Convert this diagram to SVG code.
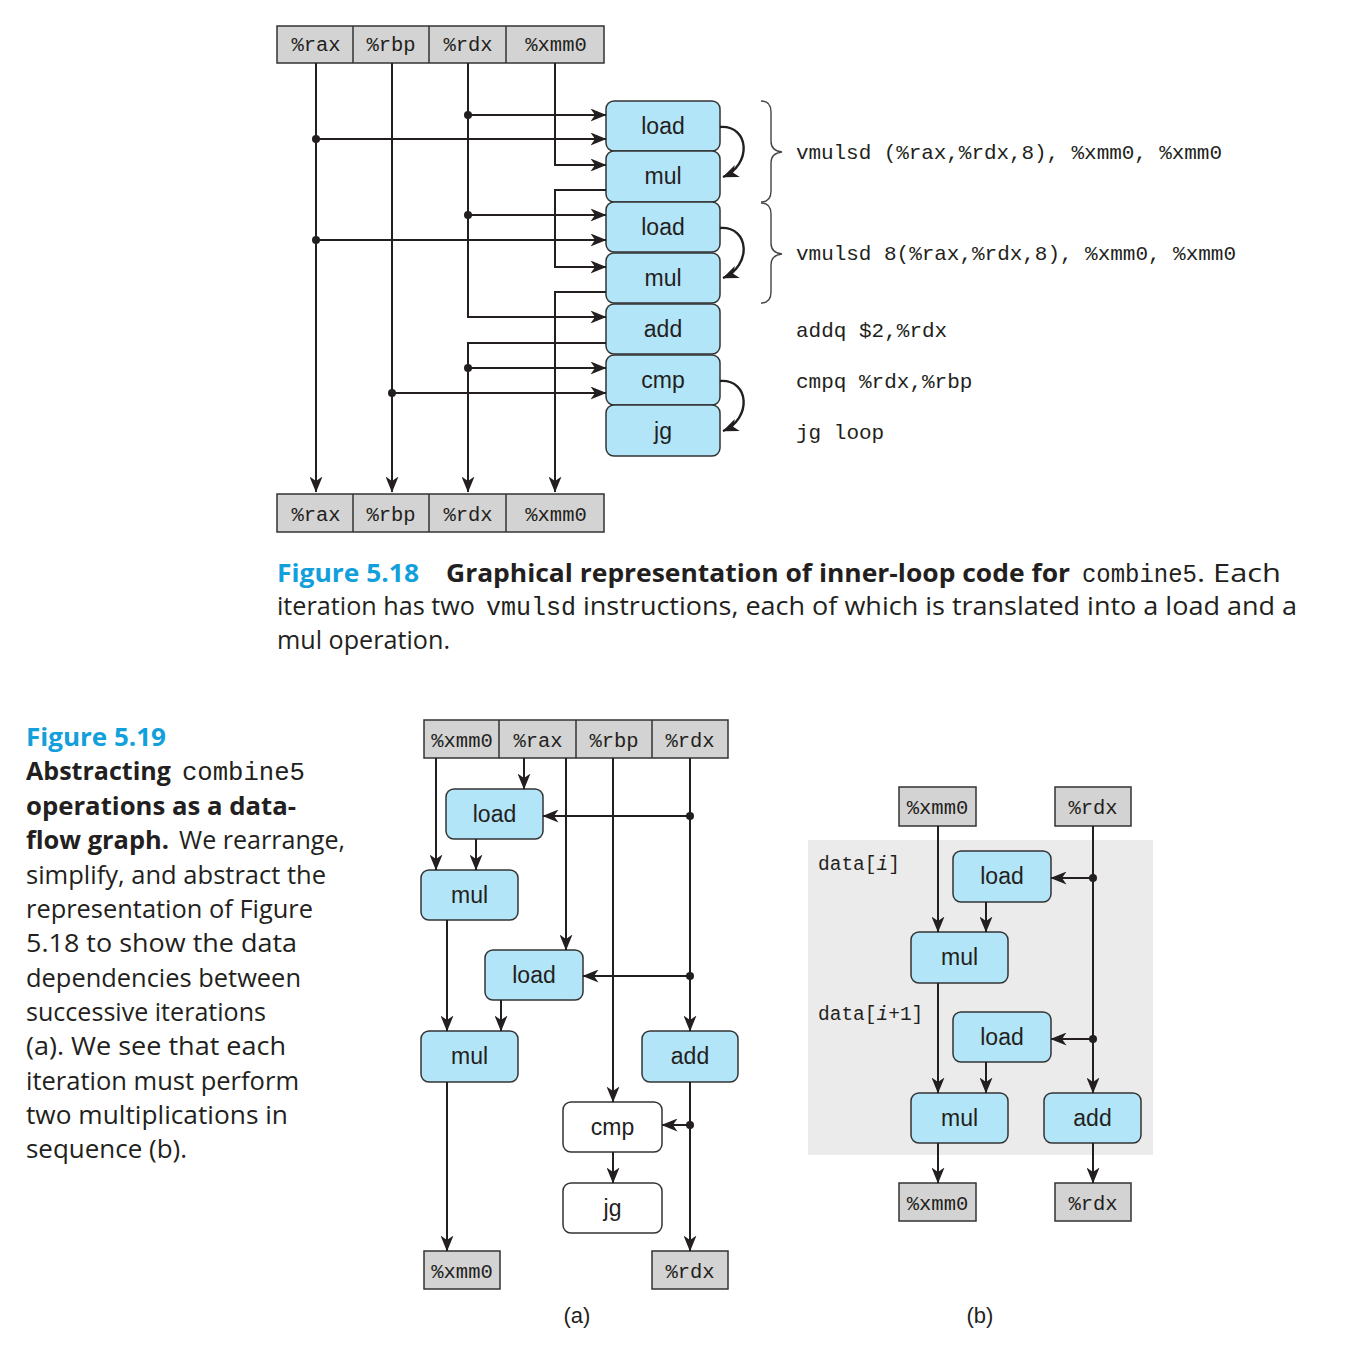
<svg xmlns="http://www.w3.org/2000/svg" width="1366" height="1356" viewBox="0 0 1366 1356">
<defs>
<marker id="ah" viewBox="0 0 16 13" markerWidth="16" markerHeight="13" refX="15.5" refY="6.5" orient="auto" markerUnits="userSpaceOnUse">
<path d="M0,0 L16,6.5 L0,13 L4.5,6.5 Z" fill="#231f20"/>
</marker>
<style>
.reg{fill:#d3d3d3;stroke:#333;stroke-width:1.5}
.node{fill:#b3e5f8;stroke:#333;stroke-width:1.5}
.wnode{fill:#fff;stroke:#333;stroke-width:1.5}
.mono{font-family:"Liberation Mono","DejaVu Sans Mono",monospace;fill:#231f20}
.rl{font-family:"Liberation Mono","DejaVu Sans Mono",monospace;font-size:20.5px;fill:#231f20;text-anchor:middle}
.nl{font-family:"Liberation Sans",Arial,sans-serif;font-size:23px;fill:#231f20;text-anchor:middle}
.cap{font-family:"Open Sans","Noto Sans",sans-serif;font-size:25px;fill:#231f20}
.capb{font-family:"Open Sans","Noto Sans",sans-serif;font-size:25px;fill:#231f20;font-weight:bold}
.fig{font-family:"Open Sans","Noto Sans",sans-serif;font-size:25px;fill:#12a0dc;font-weight:bold}
.cm{font-family:"Liberation Mono","DejaVu Sans Mono",monospace;font-size:25px;fill:#231f20}
.ln{fill:none;stroke:#231f20;stroke-width:2}
.arr{fill:none;stroke:#231f20;stroke-width:2;marker-end:url(#ah)}
.arc{fill:none;stroke:#231f20;stroke-width:2.4;marker-end:url(#ah)}
.dot{fill:#231f20}
.brace{fill:none;stroke:#444;stroke-width:1.4}
</style>
</defs>
<rect width="1366" height="1356" fill="#fff"/>

<!-- ===== Figure 5.18 ===== -->
<g id="top-regs-in">
<rect class="reg" x="277" y="26" width="327" height="37"/>
<line x1="353" y1="26" x2="353" y2="63" stroke="#333" stroke-width="1.5"/>
<line x1="429" y1="26" x2="429" y2="63" stroke="#333" stroke-width="1.5"/>
<line x1="506" y1="26" x2="506" y2="63" stroke="#333" stroke-width="1.5"/>
<text class="rl" x="316" y="51">%rax</text>
<text class="rl" x="391" y="51">%rbp</text>
<text class="rl" x="468" y="51">%rdx</text>
<text class="rl" x="556" y="51">%xmm0</text>
</g>
<g id="top-regs-out">
<rect class="reg" x="277" y="494" width="327" height="38"/>
<line x1="353" y1="494" x2="353" y2="532" stroke="#333" stroke-width="1.5"/>
<line x1="429" y1="494" x2="429" y2="532" stroke="#333" stroke-width="1.5"/>
<line x1="506" y1="494" x2="506" y2="532" stroke="#333" stroke-width="1.5"/>
<text class="rl" x="316" y="521">%rax</text>
<text class="rl" x="391" y="521">%rbp</text>
<text class="rl" x="468" y="521">%rdx</text>
<text class="rl" x="556" y="521">%xmm0</text>
</g>
<g id="t-load1"><rect class="node" x="606" y="101" width="114" height="50" rx="8"/><text class="nl" x="663" y="134">load</text></g>
<g id="t-mul1"><rect class="node" x="606" y="151" width="114" height="51" rx="8"/><text class="nl" x="663" y="184">mul</text></g>
<g id="t-load2"><rect class="node" x="606" y="202" width="114" height="50" rx="8"/><text class="nl" x="663" y="235">load</text></g>
<g id="t-mul2"><rect class="node" x="606" y="253" width="114" height="50" rx="8"/><text class="nl" x="663" y="286">mul</text></g>
<g id="t-add"><rect class="node" x="606" y="304" width="114" height="50" rx="8"/><text class="nl" x="663" y="337">add</text></g>
<g id="t-cmp"><rect class="node" x="606" y="355" width="114" height="50" rx="8"/><text class="nl" x="663" y="388">cmp</text></g>
<g id="t-jg"><rect class="node" x="606" y="405" width="114" height="51" rx="8"/><text class="nl" x="663" y="439">jg</text></g>

<g id="top-connectors">
<path class="arr" d="M316,63 V492"/>
<path class="arr" d="M392,63 V492"/>
<path class="arr" d="M468,63 V317 H606"/>
<path class="arr" d="M606,343 H468 V492"/>
<path class="arr" d="M555,63 V165 H606"/>
<path class="arr" d="M606,190 H555 V267 H606"/>
<path class="arr" d="M606,292 H555 V492"/>
<path class="arr" d="M468,115 H606"/>
<path class="arr" d="M316,139 H606"/>
<path class="arr" d="M468,215 H606"/>
<path class="arr" d="M316,240 H606"/>
<path class="arr" d="M468,368 H606"/>
<path class="arr" d="M392,393 H606"/>
<circle class="dot" cx="468" cy="115" r="4"/>
<circle class="dot" cx="316" cy="139" r="4"/>
<circle class="dot" cx="468" cy="215" r="4"/>
<circle class="dot" cx="316" cy="240" r="4"/>
<circle class="dot" cx="468" cy="368" r="4"/>
<circle class="dot" cx="392" cy="393" r="4"/>
<path class="arc" d="M720,127 C750,125 752,165 723,177"/>
<path class="arc" d="M720,228 C750,226 752,266 723,278"/>
<path class="arc" d="M720,381 C750,379 752,419 723,431"/>
</g>
<g id="braces">
<path class="brace" d="M761,101 Q771,101 771,112 L771,141 Q771,151 782,152 Q771,153 771,163 L771,191 Q771,202 761,202"/>
<path class="brace" d="M761,203 Q771,203 771,214 L771,243 Q771,253 782,254 Q771,255 771,265 L771,292 Q771,303 761,303"/>
</g>
<g id="code">
<text class="mono" x="796" y="159" font-size="21" textLength="426">vmulsd (%rax,%rdx,8), %xmm0, %xmm0</text>
<text class="mono" x="796" y="260" font-size="21" textLength="440">vmulsd 8(%rax,%rdx,8), %xmm0, %xmm0</text>
<text class="mono" x="796" y="337" font-size="21">addq $2,%rdx</text>
<text class="mono" x="796" y="388" font-size="21">cmpq %rdx,%rbp</text>
<text class="mono" x="796" y="439" font-size="21">jg loop</text>
</g>
<g id="caption-518">
<text class="fig" x="277" y="582" textLength="142" lengthAdjust="spacingAndGlyphs">Figure 5.18</text>
<text class="capb" x="446" y="582" textLength="624" lengthAdjust="spacingAndGlyphs">Graphical representation of inner-loop code for</text>
<text class="cm" x="1082" y="582" textLength="115" lengthAdjust="spacingAndGlyphs">combine5</text>
<text class="cap" x="1197" y="582" textLength="84" lengthAdjust="spacingAndGlyphs">. Each</text>
<text class="cap" x="277" y="615" textLength="198" lengthAdjust="spacingAndGlyphs">iteration has two</text>
<text class="cm" x="486" y="615" textLength="90" lengthAdjust="spacingAndGlyphs">vmulsd</text>
<text class="cap" x="583" y="615" textLength="714" lengthAdjust="spacingAndGlyphs">instructions, each of which is translated into a load and a</text>
<text class="cap" x="277" y="649" textLength="173" lengthAdjust="spacingAndGlyphs">mul operation.</text>
</g>

<!-- ===== Figure 5.19 caption ===== -->
<g id="caption-519">
<text class="fig" x="26" y="746" textLength="140" lengthAdjust="spacingAndGlyphs">Figure 5.19</text>
<text class="capb" x="26" y="780" textLength="145" lengthAdjust="spacingAndGlyphs">Abstracting</text>
<text class="cm" x="182" y="780" textLength="123" lengthAdjust="spacingAndGlyphs">combine5</text>
<text class="capb" x="26" y="815" textLength="270" lengthAdjust="spacingAndGlyphs">operations as a data-</text>
<text class="capb" x="26" y="849" textLength="143" lengthAdjust="spacingAndGlyphs">flow graph.</text>
<text class="cap" x="179" y="849" textLength="166" lengthAdjust="spacingAndGlyphs">We rearrange,</text>
<text class="cap" x="26" y="884" textLength="300" lengthAdjust="spacingAndGlyphs">simplify, and abstract the</text>
<text class="cap" x="26" y="918" textLength="287" lengthAdjust="spacingAndGlyphs">representation of Figure</text>
<text class="cap" x="26" y="952" textLength="271" lengthAdjust="spacingAndGlyphs">5.18 to show the data</text>
<text class="cap" x="26" y="987" textLength="275" lengthAdjust="spacingAndGlyphs">dependencies between</text>
<text class="cap" x="26" y="1021" textLength="240" lengthAdjust="spacingAndGlyphs">successive iterations</text>
<text class="cap" x="26" y="1055" textLength="260" lengthAdjust="spacingAndGlyphs">(a). We see that each</text>
<text class="cap" x="26" y="1090" textLength="273" lengthAdjust="spacingAndGlyphs">iteration must perform</text>
<text class="cap" x="26" y="1124" textLength="262" lengthAdjust="spacingAndGlyphs">two multiplications in</text>
<text class="cap" x="26" y="1158" textLength="161" lengthAdjust="spacingAndGlyphs">sequence (b).</text>
</g>

<!-- ===== (a) ===== -->
<g id="a-regs-in">
<rect class="reg" x="424" y="720" width="304" height="38"/>
<line x1="499" y1="720" x2="499" y2="758" stroke="#333" stroke-width="1.5"/>
<line x1="576" y1="720" x2="576" y2="758" stroke="#333" stroke-width="1.5"/>
<line x1="652" y1="720" x2="652" y2="758" stroke="#333" stroke-width="1.5"/>
<text class="rl" x="462" y="747">%xmm0</text>
<text class="rl" x="538" y="747">%rax</text>
<text class="rl" x="614" y="747">%rbp</text>
<text class="rl" x="690" y="747">%rdx</text>
</g>
<g id="a-load1"><rect class="node" x="446" y="789" width="97" height="50" rx="8"/><text class="nl" x="494.5" y="822">load</text></g>
<g id="a-mul1"><rect class="node" x="421" y="870" width="97" height="50" rx="8"/><text class="nl" x="469.5" y="903">mul</text></g>
<g id="a-load2"><rect class="node" x="485" y="950" width="98" height="50" rx="8"/><text class="nl" x="534" y="983">load</text></g>
<g id="a-mul2"><rect class="node" x="421" y="1031" width="97" height="51" rx="8"/><text class="nl" x="469.5" y="1064">mul</text></g>
<g id="a-add"><rect class="node" x="642" y="1031" width="96" height="51" rx="8"/><text class="nl" x="690" y="1064">add</text></g>
<g id="a-cmp"><rect class="wnode" x="563" y="1102" width="99" height="50" rx="8"/><text class="nl" x="612.5" y="1135">cmp</text></g>
<g id="a-jg"><rect class="wnode" x="563" y="1183" width="99" height="50" rx="8"/><text class="nl" x="612.5" y="1216">jg</text></g>
<g id="a-out-xmm0"><rect class="reg" x="424" y="1251" width="76" height="38"/><text class="rl" x="462" y="1278">%xmm0</text></g>
<g id="a-out-rdx"><rect class="reg" x="652" y="1251" width="76" height="38"/><text class="rl" x="690" y="1278">%rdx</text></g>
<g id="a-connectors">
<path class="arr" d="M436,758 V870"/>
<path class="arr" d="M524,758 V789"/>
<path class="arr" d="M566,758 V950"/>
<path class="arr" d="M613,758 V1102"/>
<path class="arr" d="M690,758 V1031"/>
<path class="arr" d="M690,816 H543"/>
<path class="arr" d="M690,976 H583"/>
<path class="arr" d="M476,839 V870"/>
<path class="arr" d="M447,920 V1031"/>
<path class="arr" d="M501,1000 V1031"/>
<path class="arr" d="M690,1082 V1251"/>
<path class="arr" d="M690,1125 H662"/>
<path class="arr" d="M613,1152 V1183"/>
<path class="arr" d="M447,1082 V1251"/>
<circle class="dot" cx="690" cy="816" r="4"/>
<circle class="dot" cx="690" cy="976" r="4"/>
<circle class="dot" cx="690" cy="1125" r="4"/>
</g>
<text x="577" y="1323" font-family="Liberation Sans, Arial, sans-serif" font-size="22" fill="#231f20" text-anchor="middle">(a)</text>

<!-- ===== (b) ===== -->
<rect x="808" y="840" width="345" height="315" fill="#ebebeb"/>
<text class="mono" x="818" y="870" font-size="19.5">data[<tspan font-style="italic">i</tspan>]</text>
<text class="mono" x="818" y="1020" font-size="19.5">data[<tspan font-style="italic">i</tspan>+1]</text>
<g id="b-in-xmm0"><rect class="reg" x="899" y="787" width="77" height="39"/><text class="rl" x="937.5" y="814">%xmm0</text></g>
<g id="b-in-rdx"><rect class="reg" x="1055" y="787" width="76" height="39"/><text class="rl" x="1093" y="814">%rdx</text></g>
<g id="b-load1"><rect class="node" x="953" y="851" width="98" height="51" rx="8"/><text class="nl" x="1002" y="884">load</text></g>
<g id="b-mul1"><rect class="node" x="911" y="932" width="97" height="51" rx="8"/><text class="nl" x="959.5" y="965">mul</text></g>
<g id="b-load2"><rect class="node" x="953" y="1012" width="98" height="50" rx="8"/><text class="nl" x="1002" y="1045">load</text></g>
<g id="b-mul2"><rect class="node" x="911" y="1093" width="97" height="50" rx="8"/><text class="nl" x="959.5" y="1126">mul</text></g>
<g id="b-add"><rect class="node" x="1044" y="1093" width="97" height="50" rx="8"/><text class="nl" x="1092.5" y="1126">add</text></g>
<g id="b-out-xmm0"><rect class="reg" x="899" y="1183" width="77" height="38"/><text class="rl" x="937.5" y="1210">%xmm0</text></g>
<g id="b-out-rdx"><rect class="reg" x="1055" y="1183" width="76" height="38"/><text class="rl" x="1093" y="1210">%rdx</text></g>
<g id="b-connectors">
<path class="arr" d="M938,826 V932"/>
<path class="arr" d="M1093,826 V1093"/>
<path class="arr" d="M1093,878 H1051"/>
<path class="arr" d="M1093,1039 H1051"/>
<path class="arr" d="M986,902 V932"/>
<path class="arr" d="M938,983 V1093"/>
<path class="arr" d="M986,1062 V1093"/>
<path class="arr" d="M938,1143 V1183"/>
<path class="arr" d="M1093,1143 V1183"/>
<circle class="dot" cx="1093" cy="878" r="4"/>
<circle class="dot" cx="1093" cy="1039" r="4"/>
</g>
<text x="980" y="1323" font-family="Liberation Sans, Arial, sans-serif" font-size="22" fill="#231f20" text-anchor="middle">(b)</text>
</svg>
